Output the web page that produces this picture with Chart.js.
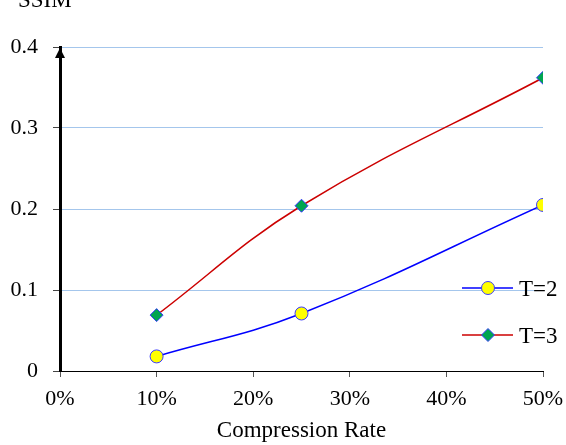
<!DOCTYPE html>
<html>
<head>
<meta charset="utf-8">
<script src="https://cdn.jsdelivr.net/npm/chart.js@4/dist/chart.umd.min.js"></script>
<style>
html,body{margin:0;padding:0;background:#fff;}
#wrap{width:566px;height:445px;position:relative;}
</style>
</head>
<body>
<div id="wrap"><canvas id="c" width="566" height="445"></canvas></div>
<script>
const compressionRates = [0.10, 0.25, 0.50];
const ssimT2 = [0.018, 0.071, 0.205];
const ssimT3 = [0.069, 0.204, 0.362];
const seriesNames = ['T=2', 'T=3'];
const xTickLabels = ['0%', '10%', '20%', '30%', '40%', '50%'];
const yTickLabels = ['0', '0.1', '0.2', '0.3', '0.4'];
const xAxisTitle = 'Compression Rate';
const yAxisTitle = 'SSIM';

const SERIF = '"Liberation Serif", "Times New Roman", serif';

const toPts = (xs, ys) => xs.map((x, i) => ({x: x, y: ys[i]}));

const overlayPlugin = {
  id: 'overlay',
  afterDraw(chart) {
    const ctx = chart.ctx;
    const ca = chart.chartArea;
    ctx.save();
    // arrow head on y axis
    ctx.fillStyle = '#000';
    ctx.beginPath();
    ctx.moveTo(ca.left, ca.top + 1);
    ctx.lineTo(ca.left - 5, ca.top + 11);
    ctx.lineTo(ca.left + 5, ca.top + 11);
    ctx.closePath();
    ctx.fill();
    // y axis title (horizontal, top-left)
    ctx.font = '23px ' + SERIF;
    ctx.textBaseline = 'alphabetic';
    ctx.textAlign = 'left';
    ctx.fillText(yAxisTitle, 18, 7);
    // legend inside the plot
    const legendY = [288, 335];
    chart.data.datasets.forEach((ds, i) => {
      const meta = chart.getDatasetMeta(i);
      const y = legendY[i];
      ctx.strokeStyle = ds.borderColor;
      ctx.lineWidth = ds.borderWidth;
      ctx.beginPath();
      ctx.moveTo(462, y);
      ctx.lineTo(513, y);
      ctx.stroke();
      const el = meta.data[0];
      const o = el.options;
      ctx.fillStyle = o.backgroundColor;
      ctx.strokeStyle = o.borderColor;
      ctx.lineWidth = o.borderWidth;
      Chart.helpers.drawPoint(ctx, {pointStyle: o.pointStyle, radius: o.radius, borderWidth: o.borderWidth, rotation: 0}, 488, y);
      ctx.fillStyle = '#000';
      ctx.font = '23px ' + SERIF;
      ctx.textBaseline = 'alphabetic';
      ctx.textAlign = 'left';
      ctx.fillText(ds.label, 519, y + 8);
    });
    ctx.restore();
  }
};

new Chart(document.getElementById('c'), {
  type: 'line',
  data: {
    datasets: [
      {
        label: seriesNames[0],
        data: toPts(compressionRates, ssimT2),
        borderColor: '#0000ff',
        borderWidth: 1.5,
        backgroundColor: '#ffff00',
        pointBackgroundColor: '#ffff00',
        pointBorderColor: '#3a3aff',
        pointBorderWidth: 1,
        pointStyle: 'circle',
        pointRadius: 6.5,
        tension: 0.4,
        fill: false
      },
      {
        label: seriesNames[1],
        data: toPts(compressionRates, ssimT3),
        borderColor: '#cc0000',
        borderWidth: 1.5,
        backgroundColor: '#00a550',
        pointBackgroundColor: '#00a550',
        pointBorderColor: '#3a3aff',
        pointBorderWidth: 1,
        pointStyle: 'rectRot',
        pointRadius: 6.5,
        tension: 0.4,
        fill: false
      }
    ]
  },
  options: {
    responsive: false,
    animation: false,
    events: [],
    layout: {padding: {top: 47, right: 23, left: 0, bottom: 0}},
    plugins: {
      legend: {display: false},
      title: {display: false},
      tooltip: {enabled: false}
    },
    scales: {
      x: {
        type: 'linear',
        min: 0,
        max: 0.5,
        afterFit(s) { s.height = 74; s.paddingLeft = 0; s.paddingRight = 0; },
        afterBuildTicks(s) {
          s.ticks = xTickLabels.map((_, i) => ({value: i * 0.1}));
        },
        ticks: {
          autoSkip: false,
          maxRotation: 0,
          padding: 9,
          color: '#000',
          font: {family: SERIF, size: 22},
          callback: (v, i) => xTickLabels[i]
        },
        grid: {
          drawOnChartArea: false,
          drawTicks: true,
          tickLength: 6,
          tickColor: '#555',
          tickWidth: 1
        },
        border: {display: true, color: '#000', width: 1},
        title: {
          display: true,
          text: xAxisTitle,
          color: '#000',
          font: {family: SERIF, size: 23},
          padding: {top: 6, bottom: 0}
        }
      },
      y: {
        type: 'linear',
        min: 0,
        max: 0.4,
        afterFit(s) { s.width = 60; s.paddingTop = 0; s.paddingBottom = 0; },
        afterBuildTicks(s) {
          s.ticks = yTickLabels.map((_, i) => ({value: i * 0.1}));
        },
        ticks: {
          padding: 15,
          color: '#000',
          font: {family: SERIF, size: 22},
          callback: (v, i) => yTickLabels[i]
        },
        grid: {
          color: (c) => (c.index === 0 ? 'rgba(0,0,0,0)' : '#a4c6ec'),
          lineWidth: 1,
          tickLength: 7,
          tickColor: '#444',
          tickWidth: 1
        },
        border: {display: true, color: '#000', width: 3}
      }
    }
  },
  plugins: [overlayPlugin]
});
</script>
</body>
</html>
